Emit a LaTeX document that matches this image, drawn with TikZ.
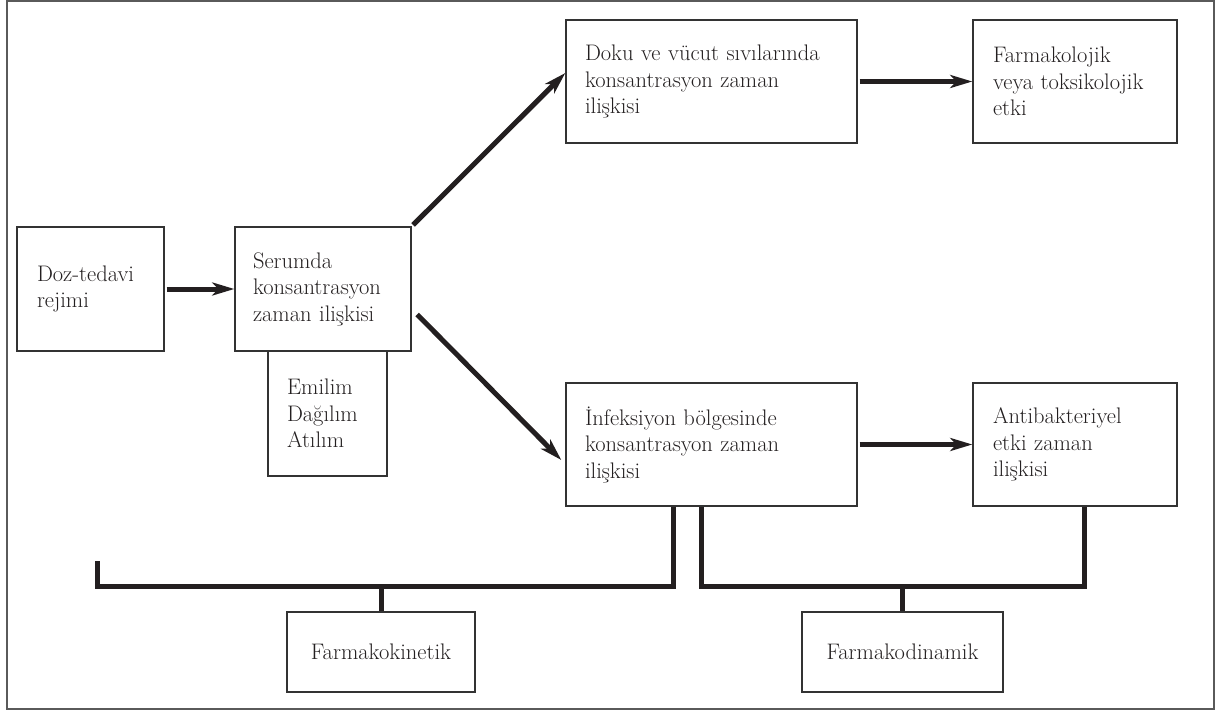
\documentclass[tikz,border=0pt]{standalone}
\usepackage{fontspec}
\usetikzlibrary{arrows.meta}
\definecolor{ink}{HTML}{231F20}
\definecolor{boxline}{HTML}{333333}
\definecolor{framegray}{HTML}{5A5A5A}
\begin{document}
\begin{tikzpicture}[x=1pt,y=-1pt,
  every node/.style={font=\fontsize{22.5}{26.5}\selectfont, text=ink},
  box/.style={draw=boxline, line width=1.4pt, rectangle, align=left,
    inner ysep=0pt, inner xsep=#1},
  box/.default=19pt,
  cbox/.style={draw=boxline, line width=1.4pt, rectangle, align=center,
    inner sep=0pt},
  bar/.style={draw=ink, line width=5pt, line join=miter, line cap=butt},
  arr/.style={bar, -{Stealth[length=22pt,width=13pt,inset=6pt]}, shorten <=2pt}
]
\useasboundingbox (0,0) rectangle (1217,711);
\draw[framegray, line width=2pt] (7,1.5) rectangle (1214,709);

\node[box=20pt, text width=107pt, minimum height=124pt] (doz) at (90.5,289) {Doz-tedavi\\rejimi};
\node[box=18pt, text width=140pt, minimum height=124pt] (serum) at (323,289) {Serumda\\konsantrasyon\\zaman~ilişkisi};
\node[box=19pt, text width=81pt, minimum height=125pt] (emi) at (327.5,413.5) {Emilim\\Dağılım\\Atılım};
\node[box=19pt, text width=253pt, minimum height=123pt] (doku) at (711.5,81.5) {Doku~ve~vücut~sıvılarında\\konsantrasyon~zaman\\ilişkisi};
\node[box=20pt, text width=164pt, minimum height=123pt] (farm) at (1075,81.5) {Farmakolojik\\veya~toksikolojik\\etki};
\node[box=19pt, text width=253pt, minimum height=123pt] (inf) at (711.5,444.5) {İnfeksiyon~bölgesinde\\konsantrasyon~zaman\\ilişkisi};
\node[box=20pt, text width=164pt, minimum height=123pt] (anti) at (1075,444.5) {Antibakteriyel\\etki~zaman\\ilişkisi};
\node[cbox, minimum width=188pt, minimum height=80pt] (fk) at (381,652) {Farmakokinetik};
\node[cbox, minimum width=201pt, minimum height=80pt] (fd) at (902.5,652) {Farmakodinamik};

% arrows
\draw[arr] (doz.east) -- (serum.west);
\draw[arr] (serum.north east) -- ([yshift=8.5pt]doku.west);
\draw[arr] ([xshift=4pt,yshift=-24pt]serum.east) -- ([xshift=-4pt,yshift=-15.5pt]inf.west);
\draw[arr] (doku.east) -- (farm.west);
\draw[arr] (inf.east) -- (anti.west);

% pharmacokinetic bracket
\coordinate (kl) at (97,561);
\draw[bar] (kl) |- ([xshift=108pt,yshift=-80pt]inf.south west) -- ([xshift=108pt]inf.south west);
\draw[bar] (fk.north) -- ++(0,-26);

% pharmacodynamic bracket
\draw[bar] ([xshift=136pt]inf.south west) -- ++(0,80) -| ([xshift=112pt]anti.south west);
\draw[bar] (fd.north) -- ++(0,-26);
\end{tikzpicture}
\end{document}
